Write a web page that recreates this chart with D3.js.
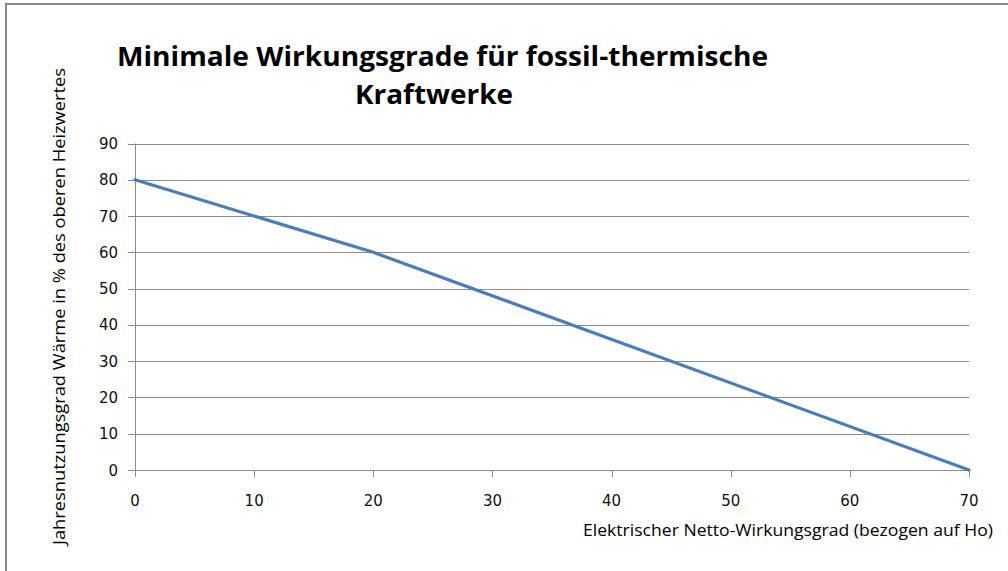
<!DOCTYPE html>
<html>
<head>
<meta charset="utf-8">
<script src="https://cdn.jsdelivr.net/npm/d3@7"></script>
<style>
  body { margin: 0; background: #fff; }
  svg { display: block; }
</style>
</head>
<body>
<div id="chart"></div>
<script>
// data
const xValues = [0, 20, 70];
const yValues = [80, 60, 0];
const xTicks = [0, 10, 20, 30, 40, 50, 60, 70];
const yTicks = [0, 10, 20, 30, 40, 50, 60, 70, 80, 90];
const titleLines = ['Minimale Wirkungsgrade für fossil-thermische', 'Kraftwerke'];
const xTitle = 'Elektrischer Netto-Wirkungsgrad (bezogen auf Ho)';
const yTitle = 'Jahresnutzungsgrad Wärme in % des oberen Heizwertes';

const width = 1008, height = 571;
const svg = d3.select('#chart').append('svg').attr('width', width).attr('height', height);

// outer frame (cut off at right and bottom)
svg.append('rect')
  .attr('x', 6).attr('y', 4).attr('width', width + 10).attr('height', height + 10)
  .attr('fill', 'none').attr('stroke', '#888').attr('stroke-width', 2);

const x = d3.scaleLinear().domain([0, 70]).range([135, 969]);
const y = d3.scaleLinear().domain([0, 90]).range([470, 143.5]);

// horizontal gridlines
svg.append('g')
  .selectAll('line')
  .data(yTicks)
  .enter().append('line')
  .attr('x1', 128).attr('x2', x(70))
  .attr('y1', d => Math.round(y(d)) + 0.5).attr('y2', d => Math.round(y(d)) + 0.5)
  .attr('stroke', '#8c8c8c').attr('stroke-width', 1);

// y axis line
svg.append('line')
  .attr('x1', x(0) + 0.5).attr('x2', x(0) + 0.5)
  .attr('y1', y(90)).attr('y2', y(0) + 7)
  .attr('stroke', '#8c8c8c');

// x tick marks
svg.append('g')
  .selectAll('line')
  .data(xTicks)
  .enter().append('line')
  .attr('x1', d => Math.round(x(d)) + 0.5).attr('x2', d => Math.round(x(d)) + 0.5)
  .attr('y1', y(0)).attr('y2', y(0) + 7)
  .attr('stroke', '#8c8c8c');

// tick labels
svg.append('g')
  .selectAll('text')
  .data(yTicks)
  .enter().append('text')
  .attr('x', 118).attr('y', d => y(d) + 5.5)
  .attr('text-anchor', 'end')
  .attr('font-family', 'DejaVu Sans, sans-serif')
  .attr('font-size', 15).attr('fill', '#111')
  .text(d => d);

svg.append('g')
  .selectAll('text')
  .data(xTicks)
  .enter().append('text')
  .attr('x', d => x(d)).attr('y', 506)
  .attr('text-anchor', 'middle')
  .attr('font-family', 'DejaVu Sans, sans-serif')
  .attr('font-size', 15).attr('fill', '#111')
  .text(d => d);

// series line
const line = d3.line().x((d, i) => x(xValues[i])).y(d => y(d));
svg.append('path')
  .datum(yValues)
  .attr('d', line)
  .attr('fill', 'none')
  .attr('stroke', '#4a7ebb')
  .attr('stroke-width', 3.2)
  .attr('stroke-linecap', 'round');

// title
svg.append('text')
  .attr('x', 117).attr('y', 66)
  .attr('font-family', 'Open Sans, sans-serif').attr('font-weight', 'bold')
  .attr('font-size', 26).attr('fill', '#000')
  .attr('textLength', 651).attr('lengthAdjust', 'spacingAndGlyphs')
  .text(titleLines[0]);
svg.append('text')
  .attr('x', 355).attr('y', 104)
  .attr('font-family', 'Open Sans, sans-serif').attr('font-weight', 'bold')
  .attr('font-size', 26).attr('fill', '#000')
  .attr('textLength', 158).attr('lengthAdjust', 'spacingAndGlyphs')
  .text(titleLines[1]);

// axis titles
svg.append('text')
  .attr('x', 583).attr('y', 536)
  .attr('font-family', 'Open Sans, sans-serif')
  .attr('font-size', 17).attr('fill', '#000')
  .attr('textLength', 410).attr('lengthAdjust', 'spacingAndGlyphs')
  .text(xTitle);

svg.append('text')
  .attr('transform', 'translate(65,545) rotate(-90)')
  .attr('font-family', 'Open Sans, sans-serif')
  .attr('font-size', 17).attr('fill', '#000')
  .attr('textLength', 477).attr('lengthAdjust', 'spacingAndGlyphs')
  .text(yTitle);
</script>
</body>
</html>
